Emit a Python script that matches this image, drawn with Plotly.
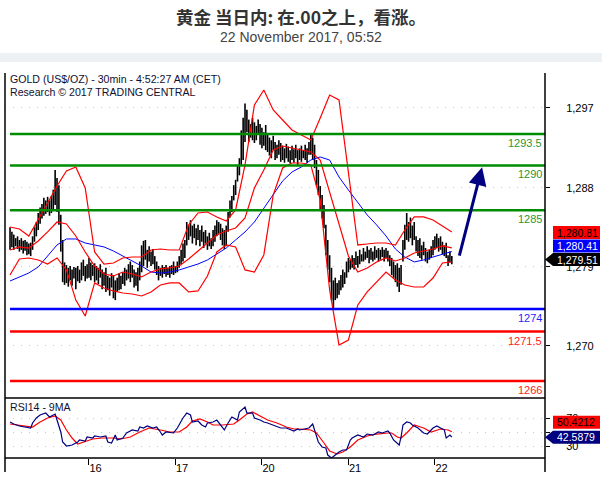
import plotly.graph_objects as go

# ---------------- data ----------------
# x axis = 30-minute bar number counted from 15 Nov 00:00 CET (46 bars per session)
day_tick_bars = [46, 92, 138, 184, 230]
day_tick_labels = ["16", "17", "20", "21", "22"]

bar_first = 4
bar_high = [
    1283.1, 1282.6, 1282.3, 1281.9, 1282.1, 1281.7, 1281.9, 1281.6, 1281.7, 1281.5,
    1281.3, 1281.4, 1282.1, 1283.1, 1283.7, 1284.7, 1285.3, 1285.7, 1286.4, 1286.1,
    1286.5, 1286.1, 1286.6, 1287.3, 1289.5, 1288.6, 1287.8, 1284.5, 1281.7, 1279.2,
    1278.9, 1278.6, 1278.8, 1278.4, 1278.7, 1278.6, 1278.8, 1278.4, 1279.2, 1279.5,
    1278.8, 1279.0, 1279.7, 1279.2, 1278.9, 1279.1, 1278.8, 1278.6, 1279.0, 1278.4,
    1278.1, 1278.6, 1277.7, 1277.5, 1278.0, 1277.8, 1277.2, 1277.5, 1278.0, 1277.7,
    1278.1, 1278.6, 1278.4, 1279.0, 1279.3, 1278.9, 1278.4, 1278.1, 1278.6, 1279.3,
    1281.1, 1281.6, 1281.7, 1280.6, 1281.0, 1280.4, 1280.7, 1279.9, 1279.3, 1278.8,
    1278.6, 1278.9, 1278.7, 1278.9, 1278.6, 1278.8, 1278.9, 1279.3, 1278.8, 1279.3,
    1279.9, 1280.6, 1281.3, 1281.7, 1283.7, 1283.4, 1283.9, 1283.3, 1283.5, 1283.0,
    1283.4, 1282.8, 1283.3, 1282.6, 1282.8, 1282.1, 1282.5, 1281.9, 1282.8, 1283.3,
    1283.9, 1283.7, 1283.5, 1283.0, 1282.8, 1283.3, 1284.8, 1286.1, 1286.6, 1287.8,
    1288.4, 1290.0, 1290.8, 1293.9, 1295.3, 1296.9, 1296.2, 1295.1, 1294.6, 1295.3,
    1294.8, 1294.4, 1295.1, 1294.6, 1294.2, 1293.7, 1294.5, 1293.5, 1293.1, 1292.8,
    1293.3, 1292.6, 1292.3, 1292.8, 1292.5, 1292.2, 1291.9, 1292.4, 1292.1, 1291.7,
    1292.2, 1291.8, 1292.3, 1291.7, 1291.9, 1292.2, 1291.7, 1292.3, 1291.9, 1292.6,
    1293.4, 1293.1, 1292.3, 1290.6, 1289.5, 1287.7, 1286.7, 1285.6, 1283.4, 1281.7,
    1280.0, 1278.6, 1277.2, 1277.5, 1276.9, 1277.2, 1277.8, 1278.4, 1278.1, 1279.3,
    1279.7, 1279.5, 1280.0, 1279.7, 1280.4, 1279.9, 1280.6, 1280.1, 1280.8, 1280.4,
    1281.0, 1280.6, 1280.8, 1280.4, 1281.0, 1280.6, 1280.8, 1280.6, 1280.9, 1280.6,
    1280.8, 1280.5, 1280.0, 1279.7, 1279.3, 1278.9, 1279.1, 1278.6, 1278.9, 1281.7,
    1283.4, 1284.7, 1283.7, 1284.2, 1283.3, 1283.7, 1282.1, 1281.7, 1281.9, 1281.1,
    1281.5, 1280.8, 1280.4, 1280.6, 1281.0, 1281.7, 1282.1, 1282.4, 1281.9, 1282.1,
    1281.5, 1281.1, 1281.4, 1280.0, 1280.4, 1279.9,
]
bar_low = [
    1280.6, 1280.9, 1280.6, 1281.0, 1280.7, 1280.4, 1280.6, 1280.2, 1280.5, 1280.0,
    1280.1, 1279.9, 1280.6, 1281.5, 1282.1, 1282.8, 1283.5, 1284.1, 1284.4, 1284.6,
    1284.8, 1284.4, 1284.7, 1285.0, 1285.6, 1284.8, 1283.4, 1280.4, 1277.0, 1276.7,
    1276.9, 1276.5, 1277.2, 1276.6, 1277.4, 1276.2, 1277.1, 1276.9, 1277.2, 1277.7,
    1277.1, 1277.4, 1277.5, 1277.2, 1277.7, 1277.0, 1277.2, 1276.8, 1277.5, 1276.2,
    1276.6, 1275.9, 1276.1, 1275.5, 1276.4, 1275.2, 1275.0, 1275.9, 1276.1, 1276.2,
    1276.8, 1276.6, 1277.2, 1277.4, 1277.0, 1277.5, 1276.4, 1276.6, 1276.0, 1277.2,
    1278.1, 1278.8, 1279.5, 1278.6, 1279.3, 1278.8, 1279.0, 1278.4, 1277.8, 1277.2,
    1277.7, 1277.5, 1277.9, 1277.6, 1277.8, 1277.5, 1277.9, 1277.8, 1278.0, 1278.1,
    1278.6, 1279.0, 1279.3, 1279.7, 1281.1, 1281.7, 1282.1, 1281.3, 1281.9, 1281.1,
    1281.7, 1281.0, 1281.5, 1280.8, 1281.3, 1280.6, 1281.0, 1280.7, 1281.0, 1281.5,
    1282.1, 1282.4, 1281.7, 1281.1, 1280.7, 1281.0, 1282.6, 1284.2, 1284.8, 1286.1,
    1286.7, 1288.2, 1288.9, 1290.0, 1290.6, 1292.6, 1293.7, 1292.6, 1293.1, 1292.8,
    1292.5, 1292.8, 1293.5, 1292.3, 1291.9, 1292.2, 1291.7, 1291.5, 1291.1, 1290.8,
    1291.7, 1290.6, 1290.8, 1291.2, 1290.4, 1290.6, 1290.3, 1290.8, 1290.4, 1290.2,
    1290.6, 1290.3, 1290.8, 1290.0, 1290.6, 1290.4, 1290.8, 1290.6, 1290.3, 1291.2,
    1291.2, 1290.6, 1289.7, 1287.8, 1286.7, 1285.0, 1284.1, 1283.0, 1280.0, 1278.4,
    1277.0, 1275.0, 1274.1, 1275.0, 1275.2, 1275.6, 1276.1, 1276.4, 1276.8, 1277.5,
    1278.1, 1278.4, 1278.6, 1278.4, 1278.9, 1278.6, 1279.0, 1279.3, 1279.3, 1279.5,
    1279.7, 1279.1, 1279.5, 1279.3, 1279.5, 1279.7, 1279.3, 1279.5, 1279.8, 1279.3,
    1279.7, 1279.3, 1278.8, 1277.8, 1277.5, 1277.0, 1276.5, 1275.9, 1276.7, 1279.3,
    1280.6, 1281.7, 1281.5, 1281.9, 1281.1, 1281.7, 1280.4, 1279.9, 1279.7, 1279.5,
    1280.0, 1279.3, 1279.1, 1279.5, 1279.7, 1280.0, 1280.6, 1280.8, 1280.4, 1280.6,
    1280.1, 1279.9, 1279.7, 1278.8, 1279.2, 1279.0,
]
bar_number = list(range(bar_first, bar_first + len(bar_high)))
last_price = 1279.51

# indicator lines, read every 5 bars
ind_bar = list(range(4, 240, 5))
bb_upper = [1283.14, 1282.92, 1282.14, 1283.92, 1285.82, 1287.71, 1289.38, 1289.83, 1287.49, 1280.36,
            1279.02, 1279.13, 1279.69, 1279.80, 1279.80, 1280.58, 1280.69, 1280.58, 1280.58, 1283.37,
            1284.70, 1284.81, 1284.26, 1283.81, 1285.04, 1290.05, 1296.73, 1298.40, 1296.17, 1295.06,
            1293.95, 1293.39, 1292.83, 1295.28, 1297.84, 1297.29, 1289.27, 1281.14, 1281.25, 1281.36,
            1281.36, 1281.14, 1282.81, 1284.26, 1284.26, 1283.92, 1283.26, 1282.59]
bb_middle = [1280.58, 1280.92, 1280.80, 1281.58, 1282.59, 1283.70, 1283.48, 1282.14, 1280.36, 1278.80,
             1277.91, 1277.69, 1278.13, 1277.91, 1277.58, 1278.13, 1278.47, 1278.58, 1278.80, 1279.58,
             1280.47, 1281.36, 1282.25, 1282.70, 1283.03, 1284.15, 1287.49, 1289.49, 1291.72, 1292.16,
             1291.94, 1291.72, 1291.50, 1290.60, 1287.04, 1283.70, 1279.91, 1278.13, 1278.58, 1279.25,
             1279.69, 1279.36, 1279.69, 1280.25, 1280.47, 1280.69, 1281.03, 1280.81]
bb_lower = [1277.80, 1279.58, 1279.69, 1279.47, 1279.02, 1279.69, 1278.36, 1275.01, 1273.23, 1276.91,
            1276.35, 1276.02, 1275.79, 1275.68, 1275.46, 1275.91, 1276.68, 1276.91, 1276.91, 1275.91,
            1276.02, 1277.69, 1280.36, 1281.14, 1280.92, 1278.36, 1278.13, 1280.03, 1286.71, 1289.71,
            1290.27, 1290.27, 1290.05, 1286.15, 1276.13, 1270.00, 1270.56, 1274.46, 1275.91, 1277.02,
            1278.13, 1277.24, 1276.68, 1276.46, 1276.46, 1277.46, 1279.13, 1279.25]
ma_blue = [1277.13, 1277.58, 1278.02, 1278.69, 1279.91, 1281.14, 1281.81, 1281.81, 1281.36, 1281.14,
           1280.92, 1280.47, 1279.91, 1279.36, 1278.80, 1278.13, 1278.02, 1278.13, 1278.36, 1278.69,
           1279.02, 1279.47, 1280.14, 1280.80, 1281.70, 1282.59, 1283.70, 1285.26, 1286.71, 1288.27,
           1289.27, 1289.83, 1290.60, 1290.94, 1290.60, 1288.71, 1287.26, 1285.82, 1284.48, 1283.37,
           1282.14, 1280.69, 1279.80, 1279.25, 1279.47, 1279.80, 1280.14, 1280.41]

rsi_bar = [4, 6, 9, 13, 15, 16, 18, 20, 23, 25, 27, 28, 29, 31, 32, 34, 37, 40, 41, 44,
           45, 48, 49, 52, 55, 56, 58, 60, 61, 64, 66, 69, 72, 73, 75, 77, 80, 82, 84, 85,
           87, 91, 93, 96, 98, 100, 101, 104, 106, 108, 109, 112, 114, 116, 118, 120, 122, 125, 126, 129,
           130, 133, 134, 137, 139, 141, 144, 148, 151, 155, 157, 158, 163, 165, 166, 168, 170, 172, 173, 175,
           177, 179, 181, 183, 185, 186, 189, 192, 194, 197, 200, 202, 205, 206, 208, 210, 211, 212, 213, 215,
           217, 218, 221, 224, 226, 229, 231, 233, 235, 236, 238, 239]
rsi_value = [64.3, 61.4, 58.6, 57.1, 55.7, 62.9, 70, 74.3, 77.1, 71.4, 74.3, 75.7, 67.1, 50, 35.7, 30, 31.4, 35.7, 38.6, 37.1,
             42.9, 41.4, 44.3, 42.9, 44.3, 35.7, 34.3, 45.7, 38.6, 41.4, 48.6, 52.9, 51.4, 57.1, 55.7, 58.6, 55.7, 57.1, 50, 45.7,
             50, 48.6, 55.7, 70, 77.1, 74.3, 64.3, 65.7, 60, 57.1, 62.9, 64.3, 67.1, 60, 52.9, 62.9, 71.4, 67.1, 78.6, 85.7,
             77.1, 77.1, 70, 67.1, 64.3, 62.9, 60, 55.7, 55.7, 51.4, 54.3, 52.9, 55.7, 61.4, 52.9, 35.7, 28.6, 27.1, 17.1, 12.9,
             17.1, 21.4, 24.3, 24.3, 38.6, 41.4, 45.7, 42.9, 47.1, 45.7, 50, 48.6, 51.4, 48.6, 38.6, 34.3, 31.4, 42.9, 60, 64.3,
             62.9, 60, 55.7, 48.6, 47.1, 55.7, 58.6, 55.7, 52.9, 41.4, 45.7, 42.5879]
rsi_ma_bar = [4, 11, 16, 20, 24, 28, 31, 34, 37, 40, 43, 48, 53, 59, 63, 68, 73, 78, 84, 89,
              94, 98, 101, 105, 109, 112, 117, 123, 126, 130, 133, 137, 141, 146, 151, 155, 158, 164, 167, 171,
              174, 178, 181, 185, 189, 194, 199, 205, 207, 210, 212, 215, 219, 224, 228, 233, 237, 239]
rsi_ma_value = [61.4, 58.6, 57.1, 64.3, 70, 72.9, 67.1, 52.9, 41.4, 32.9, 35.7, 40, 41.4, 41.4, 40, 42.9, 50, 55.7, 52.9, 50,
                50, 57.1, 65.7, 68.6, 64.3, 60, 60, 61.4, 67.1, 75.7, 78.6, 72.9, 67.1, 62.9, 57.1, 54.3, 54.3, 52.9, 48.6, 34.3,
                22.9, 18.6, 21.4, 28.6, 38.6, 44.3, 47.1, 48.6, 48.6, 42.9, 41.4, 48.6, 60, 55.7, 50, 54.3, 52.9, 50.4212]

level_values = [1293.5, 1290, 1285, 1274, 1271.5, 1266]
level_labels = ["1293.5", "1290", "1285", "1274", "1271.5", "1266"]
level_colors = ["#008c00", "#008c00", "#008c00", "#0000ff", "#ff0000", "#ff0000"]
level_text_colors = ["#2f952f", "#2f952f", "#2f952f", "#1f1fff", "#ff2020", "#ff2020"]

price_tick_vals = [1269.9, 1278.7, 1287.5, 1296.4]
price_tick_text = ["1,270", "1,279", "1,288", "1,297"]
rsi_tick_vals = [30, 50, 70]
rsi_tick_text = ["30", "", "70"]

arrow_from = (242.8, 1279.8)
arrow_to = (255.1, 1289.8)

# ---------------- layout helpers (pixels of the 602x488 page) ----------------
W, H = 602, 488
def PX(x):
    return x / W
def PY(y):
    return 1 - y / H

X_LEFT, X_RIGHT = 5, 545
BAR0_PX, BAR_PX = 2.5, 1.88
x_range = [(X_LEFT - BAR0_PX) / BAR_PX, (X_RIGHT - BAR0_PX) / BAR_PX]
P_TOP, P_BOT, R_BOT, AX_BOT = 73, 398, 458, 472

FONT = "Liberation Sans, Arial, sans-serif"

fig = go.Figure()

# price bars (high-low vertical strokes)
bx, by = [], []
for i, hi, lo in zip(bar_number, bar_high, bar_low):
    bx += [i, i, None]
    by += [lo, hi, None]
fig.add_trace(go.Scatter(x=bx, y=by, mode="lines", line=dict(color="black", width=1.6),
                         hoverinfo="skip", xaxis="x", yaxis="y"))

for series, col, wd in [(ma_blue, "#0000ff", 1.0), (bb_upper, "#ff0000", 1.2),
                        (bb_middle, "#ff0000", 1.2), (bb_lower, "#ff0000", 1.2)]:
    fig.add_trace(go.Scatter(x=ind_bar, y=series, mode="lines", line=dict(color=col, width=wd),
                             hoverinfo="skip", xaxis="x", yaxis="y"))

# RSI panel
fig.add_trace(go.Scatter(x=rsi_ma_bar, y=rsi_ma_value, mode="lines", line=dict(color="#ff0000", width=1.2),
                         hoverinfo="skip", xaxis="x2", yaxis="y2"))
fig.add_trace(go.Scatter(x=rsi_bar, y=rsi_value, mode="lines", line=dict(color="#000080", width=1.2),
                         hoverinfo="skip", xaxis="x2", yaxis="y2"))

shapes = []
annotations = []

# header band
shapes.append(dict(type="rect", xref="paper", yref="paper", x0=0, x1=1, y0=PY(62), y1=PY(53),
                   fillcolor="#eef1f4", line=dict(width=0), layer="below"))

# level lines + labels
for v, lab, c, tc in zip(level_values, level_labels, level_colors, level_text_colors):
    shapes.append(dict(type="line", xref="x", yref="y", x0=bar_first, x1=x_range[1], y0=v, y1=v,
                       line=dict(color=c, width=2.5), layer="above"))
    annotations.append(dict(xref="x domain", yref="y", x=1, y=v, xanchor="right", yanchor="top",
                            text=lab, showarrow=False, xshift=-1, yshift=-1,
                            font=dict(family=FONT, size=11, color=tc)))

# frame lines
for (x0, y0, x1, y1) in [(X_LEFT, P_TOP, X_LEFT, AX_BOT), (X_RIGHT, P_TOP, X_RIGHT, AX_BOT),
                         (X_LEFT, P_BOT, X_RIGHT, P_BOT), (X_LEFT, R_BOT, X_RIGHT, R_BOT)]:
    shapes.append(dict(type="line", xref="paper", yref="paper", x0=PX(x0), y0=PY(y0), x1=PX(x1), y1=PY(y1),
                       line=dict(color="black", width=1.5), layer="above"))

# forecast arrow
annotations.append(dict(xref="x", yref="y", axref="x", ayref="y", x=arrow_to[0], y=arrow_to[1],
                        ax=arrow_from[0], ay=arrow_from[1], text="", showarrow=True,
                        arrowhead=2, arrowsize=1.2, arrowwidth=3, arrowcolor="#000080"))

# value boxes on the right
def pointer_box(yref, yval, fill):
    return dict(type="path", xref="paper", yref=yref, xsizemode="pixel", ysizemode="pixel",
                xanchor=PX(X_RIGHT), yanchor=yval,
                path="M 0,0 L 8,6.5 L 55,6.5 L 55,-6.5 L 8,-6.5 Z",
                fillcolor=fill, line=dict(width=0), layer="above")

def flat_box(yref, yval, fill, shift):
    return dict(type="path", xref="paper", yref=yref, xsizemode="pixel", ysizemode="pixel",
                xanchor=PX(X_RIGHT), yanchor=yval,
                path="M 8,%s L 55,%s L 55,%s L 8,%s Z" % (shift - 6.5, shift - 6.5, shift + 6.5, shift + 6.5),
                fillcolor=fill, line=dict(width=0), layer="above")

shapes.append(pointer_box("y", last_price, "#000000"))
shapes.append(flat_box("y", last_price, "#0000ff", 13.5))
shapes.append(flat_box("y", last_price, "#ff0000", 27))
shapes.append(pointer_box("y2", rsi_value[-1], "#000080"))
shapes.append(flat_box("y2", rsi_value[-1], "#ff0000", 15))

def box_text(yref, yval, txt, col, shift):
    return dict(xref="paper", yref=yref, x=PX(555), y=yval, xanchor="left", yanchor="middle",
                text=txt, showarrow=False, yshift=shift,
                font=dict(family=FONT, size=10.5, color=col))

annotations.append(box_text("y", last_price, "{:,.2f}".format(last_price), "white", 0))
annotations.append(box_text("y", last_price, "{:,.2f}".format(ma_blue[-1]), "white", 13.5))
annotations.append(box_text("y", last_price, "{:,.2f}".format(bb_middle[-1]), "black", 27))
annotations.append(box_text("y2", rsi_value[-1], "{:.4f}".format(rsi_value[-1]), "white", 0))
annotations.append(box_text("y2", rsi_value[-1], "{:.4f}".format(rsi_ma_value[-1]), "black", 15))

# texts
annotations.append(dict(xref="paper", yref="paper", x=0.5, y=PY(16), xanchor="center", yanchor="middle",
                        text="<b>黄金 当日内: 在.00之上，看涨。</b>", showarrow=False,
                        font=dict(family="Noto Sans CJK SC", size=17.5, color="#333333")))
annotations.append(dict(xref="paper", yref="paper", x=0.5, y=PY(37), xanchor="center", yanchor="middle",
                        text="22 November 2017, 05:52", showarrow=False,
                        font=dict(family=FONT, size=14, color="#444444")))
annotations.append(dict(xref="paper", yref="paper", x=PX(8), y=PY(79), xanchor="left", yanchor="middle",
                        text="GOLD (US$/OZ) - 30min - 4:52:27 AM (CET)", showarrow=False,
                        font=dict(family=FONT, size=10.6, color="#101030")))
annotations.append(dict(xref="paper", yref="paper", x=PX(8), y=PY(92), xanchor="left", yanchor="middle",
                        text="Research © 2017 TRADING CENTRAL", showarrow=False,
                        font=dict(family=FONT, size=10.6, color="#101030")))
annotations.append(dict(xref="paper", yref="paper", x=PX(8), y=PY(407), xanchor="left", yanchor="middle",
                        text="RSI14 - 9MA", showarrow=False,
                        font=dict(family=FONT, size=10.6, color="#101030")))

grid_style = dict(showgrid=True, gridcolor="#c8c8c8", griddash="1px,7px", gridwidth=1)

fig.update_layout(
    width=W, height=H, autosize=False,
    margin=dict(l=0, r=0, t=0, b=0),
    paper_bgcolor="white", plot_bgcolor="white",
    showlegend=False,
    font=dict(family=FONT, size=11, color="black"),
    xaxis=dict(domain=[PX(X_LEFT), PX(X_RIGHT)], range=x_range, anchor="y",
               showticklabels=False, showgrid=False, zeroline=False, showline=False, ticks=""),
    yaxis=dict(domain=[PY(P_BOT), PY(P_TOP)], range=[1264.10, 1300.29], anchor="x", side="right",
               tickvals=price_tick_vals, ticktext=price_tick_text, ticks="outside", ticklen=4,
               tickcolor="black", zeroline=False, showline=False, ticklabelstandoff=14,
               tickfont=dict(family=FONT, size=11, color="black"), **grid_style),
    xaxis2=dict(domain=[PX(X_LEFT), PX(X_RIGHT)], range=x_range, anchor="y2",
                tickvals=day_tick_bars, ticktext=day_tick_labels, ticks="outside", ticklen=6,
                tickcolor="black", ticklabelposition="outside right", showgrid=False,
                zeroline=False, showline=False, tickfont=dict(family=FONT, size=11, color="black")),
    yaxis2=dict(domain=[PY(R_BOT), PY(P_BOT)], range=[12.86, 98.57], anchor="x2", side="right",
                tickvals=rsi_tick_vals, ticktext=rsi_tick_text, ticks="outside", ticklen=4,
                tickcolor="black", zeroline=False, showline=False, ticklabelstandoff=14,
                tickfont=dict(family=FONT, size=11, color="black"), **grid_style),
    shapes=shapes,
    annotations=annotations,
)

fig.write_html("out.html", config={"displayModeBar": False},
               post_script="document.body.style.margin='0px';document.body.style.overflow='hidden';")
